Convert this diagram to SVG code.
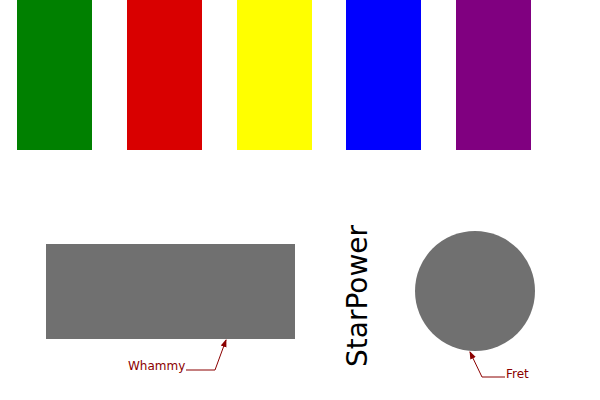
<svg xmlns="http://www.w3.org/2000/svg" width="600" height="400" viewBox="0 0 600 400">
<defs>
<style>
.lbl{font-family:"DejaVu Sans",sans-serif;font-size:12px;fill:#8b0000}
.ln{fill:none;stroke:#8b0000;stroke-width:1}
.gray{fill:#707070}
</style>
<marker id="ah" markerWidth="8" markerHeight="8" refX="7" refY="4" orient="auto" markerUnits="userSpaceOnUse">
<path d="M0,1 L8,4 L0,7 z" fill="#8b0000"/>
</marker>
</defs>
<rect width="600" height="400" fill="#fff"/>
<g id="green"><rect x="17" y="0" width="75" height="150" fill="#008000"/></g>
<g id="red"><rect x="127" y="0" width="75" height="150" fill="#d90000"/></g>
<g id="yellow"><rect x="237" y="0" width="75" height="150" fill="#ffff00"/></g>
<g id="blue"><rect x="346" y="0" width="75" height="150" fill="#0000ff"/></g>
<g id="purple"><rect x="456" y="0" width="75" height="150" fill="#800080"/></g>
<g id="whammy"><rect class="gray" x="46" y="244" width="249" height="95"/></g>
<g id="starpower"><text transform="translate(367,296) rotate(-90)" text-anchor="middle" font-family="'DejaVu Sans',sans-serif" font-size="28" fill="#000">StarPower</text></g>
<g id="fret"><circle class="gray" cx="475" cy="291" r="60"/></g>
<g id="connectors">
<polyline class="ln" points="186,370 215,370 226,340" marker-end="url(#ah)"/>
<polyline class="ln" points="505,377 482,377 470,352" marker-end="url(#ah)"/>
</g>
<text class="lbl" x="128" y="370">Whammy</text>
<text class="lbl" x="506" y="378">Fret</text>
</svg>
